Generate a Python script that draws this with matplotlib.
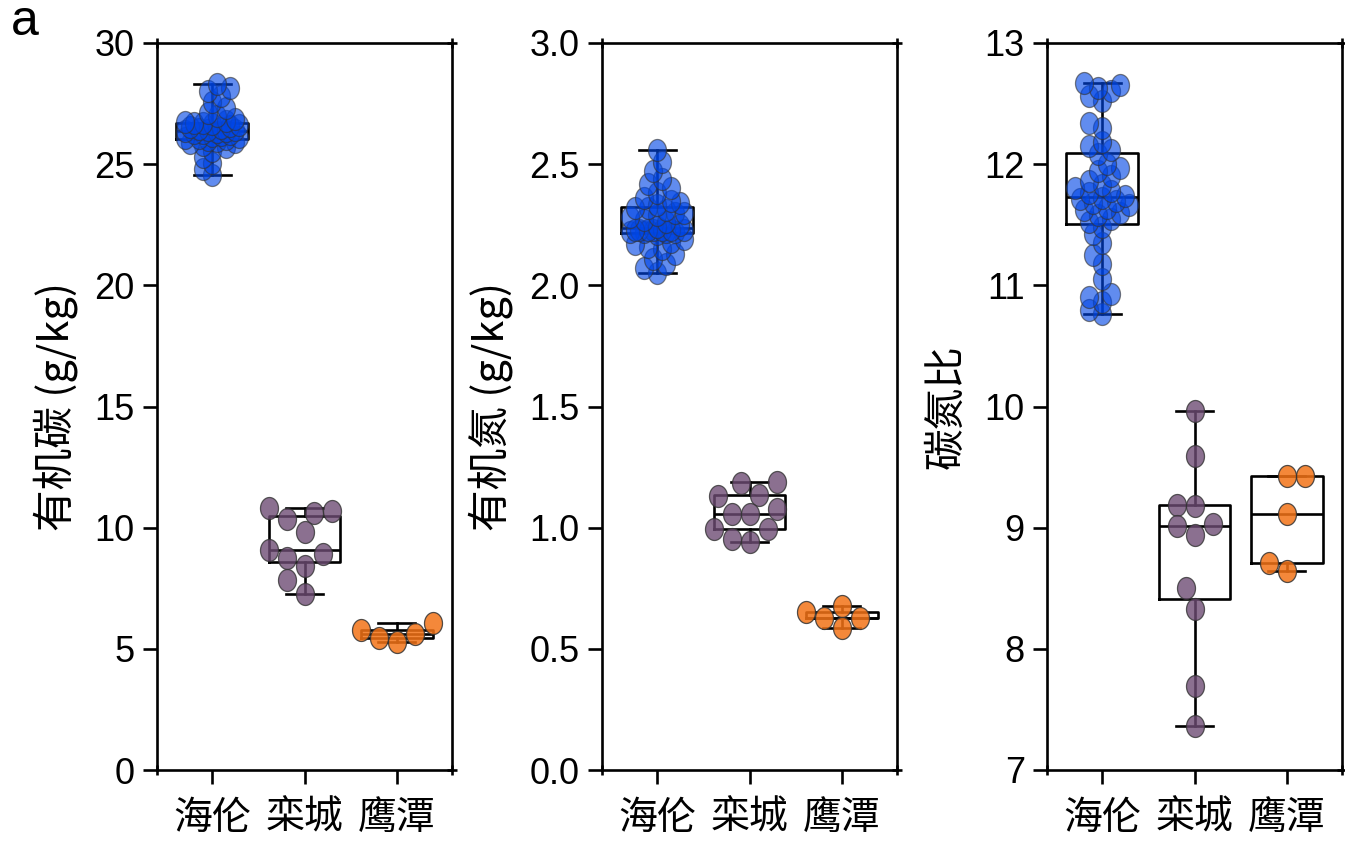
import numpy as np
import matplotlib
import matplotlib.pyplot as plt
from matplotlib.path import Path

# ---- data -------------------------------------------------------------
groups = ['海伦', '栾城', '鹰潭']

soc_hailun = [24.55, 24.80, 25.05, 25.30, 25.55, 25.70, 25.80, 25.88, 25.93, 25.97, 26.00,
              26.03, 26.07, 26.10, 26.14, 26.18, 26.21, 26.24, 26.27, 26.30, 26.33, 26.35,
              26.37, 26.40, 26.43, 26.46, 26.50, 26.53, 26.57, 26.60, 26.64, 26.68, 26.70,
              26.74, 26.80, 26.88, 26.97, 27.10, 27.30, 27.55, 27.80, 28.00, 28.15, 28.30]
soc_luancheng = [10.80, 10.35, 10.62, 10.70, 9.83, 9.08, 8.92, 8.74, 8.40, 7.84, 7.27]
soc_yingtan = [6.08, 5.46, 5.60, 5.78, 5.27]

tn_hailun = [2.05, 2.07, 2.09, 2.11, 2.13, 2.15, 2.16, 2.17, 2.18, 2.19, 2.21,
             2.22, 2.22, 2.22, 2.22, 2.23, 2.23, 2.23, 2.23, 2.23, 2.23, 2.23,
             2.24, 2.25, 2.26, 2.27, 2.28, 2.29, 2.30, 2.30, 2.31, 2.32, 2.32,
             2.33, 2.34, 2.35, 2.36, 2.38, 2.40, 2.42, 2.44, 2.47, 2.51, 2.56]
tn_luancheng = [1.183, 1.190, 1.135, 1.131, 1.076, 1.055, 1.055, 0.993, 0.993, 0.952, 0.942]
tn_yingtan = [0.677, 0.653, 0.585, 0.626, 0.626]

cn_hailun = [10.76, 10.80, 10.86, 10.90, 10.93, 11.05, 11.18, 11.25, 11.35, 11.42, 11.48,
             11.52, 11.55, 11.58, 11.60, 11.62, 11.64, 11.66, 11.68, 11.70, 11.71, 11.72,
             11.74, 11.76, 11.78, 11.80, 11.83, 11.86, 11.90, 11.94, 11.97, 12.00, 12.08,
             12.12, 12.15, 12.18, 12.30, 12.34, 12.52, 12.56, 12.60, 12.63, 12.65, 12.67]
cn_luancheng = [9.96, 9.59, 9.19, 9.18, 9.01, 9.03, 8.94, 8.50, 8.33, 7.69, 7.36]
cn_yingtan = [9.43, 9.43, 9.11, 8.71, 8.64]

ylabels = ['有机碳 (g/kg)', '有机氮 (g/kg)', '碳氮比']
ylims = [(0, 30), (0, 3.0), (7, 13)]
yticks = [[0, 5, 10, 15, 20, 25, 30],
          [0.0, 0.5, 1.0, 1.5, 2.0, 2.5, 3.0],
          [7, 8, 9, 10, 11, 12, 13]]
ytick_fmt = ['{:.0f}', '{:.1f}', '{:.0f}']
panel_tag = 'a'

colors = ['#0046e6', '#6e4c74', '#f37317']
alphas = [0.62, 0.8, 0.85]

# ---- style ------------------------------------------------------------
plt.rcParams['font.family'] = ['Liberation Sans', 'Noto Sans CJK SC', 'DejaVu Sans']
LW = 1.9
W_PX, H_PX = 18.0, 22.0          # marker footprint in pixels

fig = plt.figure(figsize=(13.45, 8.51), dpi=100)
dpi = fig.dpi

# elliptical marker outline
theta = np.linspace(0, 2 * np.pi, 72)
ellipse = Path(np.column_stack([0.5 * (W_PX / H_PX) * np.cos(theta), 0.5 * np.sin(theta)]),
               closed=True)
marker_s = (H_PX * 72.0 / dpi) ** 2


def swarm(ypix, min_frac, max_off):
    """Horizontal offsets (pixels) so that markers do not pile up."""
    ypix = np.asarray(ypix, float) * (W_PX / H_PX)
    order = np.argsort(ypix)
    px, py = [], []
    out = np.zeros(len(ypix))
    step = W_PX * 0.25
    for n, i in enumerate(order):
        sign = 1 if n % 2 == 0 else -1
        best, best_clear, best_cand = None, -1.0, 0.0
        for k in range(400):
            cand = ((k + 1) // 2) * step * (sign if k % 2 else -sign)
            if abs(cand) > max_off:
                break
            if px:
                d = np.min(np.hypot(np.array(px) - cand, np.array(py) - ypix[i]))
            else:
                d = np.inf
            if d >= min_frac * W_PX:
                best = cand
                break
            if d > best_clear:
                best_clear, best_cand = d, cand
        if best is None:
            best = best_cand
        out[i] = best
        px.append(best)
        py.append(ypix[i])
    return out


panels = [
    [soc_hailun, soc_luancheng, soc_yingtan],
    [tn_hailun, tn_luancheng, tn_yingtan],
    [cn_hailun, cn_luancheng, cn_yingtan],
]
lefts = [157, 602, 1047]
ax_w, ax_top, ax_bot = 295, 43, 770
FW, FH = 1345, 851

for p, data in enumerate(panels):
    ax = fig.add_axes([lefts[p] / FW, 1 - ax_bot / FH, ax_w / FW, (ax_bot - ax_top) / FH])
    ax.set_xlim(-0.6, 2.6)
    ax.set_ylim(*ylims[p])

    # box and whiskers spanning min..max
    ax.boxplot(data, positions=[0, 1, 2], widths=0.78, whis=(0, 100), showfliers=False,
               capwidths=0.4, manage_ticks=False, zorder=2,
               boxprops=dict(color='black', linewidth=LW),
               whiskerprops=dict(color='black', linewidth=LW),
               capprops=dict(color='black', linewidth=LW),
               medianprops=dict(color='black', linewidth=LW))

    x_per_unit = ax.transData.transform((1, 0))[0] - ax.transData.transform((0, 0))[0]
    for g, vals in enumerate(data):
        vals = np.asarray(vals, float)
        ypix = ax.transData.transform(np.column_stack([np.zeros_like(vals), vals]))[:, 1]
        if len(vals) > 20:
            offs = swarm(ypix, 0.55, 30)
        else:
            offs = swarm(ypix, 0.98, 45)
        ax.scatter(g + offs / x_per_unit, vals, s=marker_s, marker=ellipse,
                   facecolor=colors[g], edgecolor='#333333', linewidths=0.9,
                   alpha=alphas[g], zorder=3)

    # ticks and frame
    ax.set_xticks([0, 1, 2])
    ax.set_xticklabels(groups, family=['Noto Sans CJK SC'], fontsize=28)
    ax.set_yticks(yticks[p])
    ax.set_yticklabels([ytick_fmt[p].format(v) for v in yticks[p]],
                       family=['Liberation Sans'], fontsize=26)
    ax.tick_params(axis='both', which='major', direction='out', length=10, width=LW)
    ax.tick_params(axis='x', which='major', pad=10)
    ax.tick_params(axis='y', which='major', pad=6)
    ax.set_xticks([-0.6, 2.6], minor=True)
    ax.set_yticks(list(ylims[p]), minor=True)
    ax.yaxis.remove_overlapping_locs = False
    ax.tick_params(axis='x', which='minor', direction='inout', length=7, width=LW,
                   top=True, bottom=True)
    ax.tick_params(axis='y', which='minor', direction='inout', length=7, width=LW,
                   left=False, right=True)
    for sp in ax.spines.values():
        sp.set_linewidth(LW)

    ax.set_ylabel(ylabels[p], family=['Noto Sans CJK SC', 'Liberation Sans'], fontsize=30,
                  labelpad=12)

fig.text(25 / FW, 1 - 22 / FH, panel_tag, fontsize=36, ha='center', va='center',
         family=['Liberation Sans'])

fig.savefig('out.png', dpi=100)
